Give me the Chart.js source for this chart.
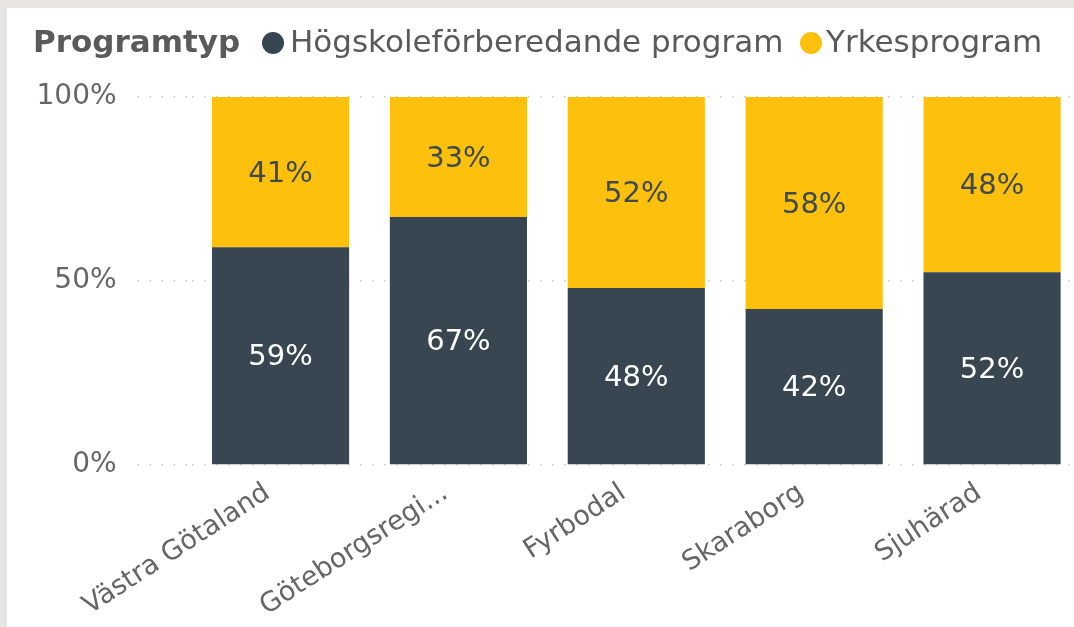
<!DOCTYPE html>
<html><head><meta charset="utf-8">
<script src="https://cdn.jsdelivr.net/npm/chart.js@4"></script>
<style>
html,body{margin:0;padding:0;background:#e8e4e1;overflow:hidden;width:1074px;height:627px;}
#card{position:absolute;left:7px;top:8px;width:1067px;height:619px;background:#fff;overflow:hidden;}
#wrap{position:absolute;left:0;top:0;width:1085px;height:619px;}
</style></head>
<body><div id="card"><div id="wrap"><canvas id="c" width="1085" height="619"></canvas></div></div>
<script>
const categories = ['Västra Götaland', 'Göteborgsregi...', 'Fyrbodal', 'Skaraborg', 'Sjuhärad'];
const hogskoleValues = [59.2, 67.4, 48.1, 42.4, 52.4];
const yrkesValues = [40.8, 32.6, 51.9, 57.6, 47.6];
const yTickValues = [0, 50, 100];
const legendTitle = 'Programtyp';
const seriesNames = ['Högskoleförberedande program', 'Yrkesprogram'];
const colors = ['#374650', '#FDC00C'];
const labelColors = ['#ffffff', '#3d4a52'];
const FONT = "'DejaVu Sans', sans-serif";

const legendPlugin = {
  id: 'customLegend',
  afterDraw(chart) {
    const ctx = chart.ctx;
    ctx.save();
    ctx.textBaseline = 'middle';
    ctx.fillStyle = '#5a5a5a';
    ctx.font = "bold 31px " + FONT;
    ctx.fillText(legendTitle, 26, 36);
    const circleX = [266, 804];
    const textX = [283, 819];
    seriesNames.forEach((n, i) => {
      ctx.beginPath();
      ctx.fillStyle = colors[i];
      ctx.arc(circleX[i], 35, 11, 0, Math.PI * 2);
      ctx.fill();
      ctx.fillStyle = '#5a5a5a';
      ctx.font = "31px " + FONT;
      ctx.fillText(n, textX[i], 36);
    });
    ctx.restore();
  }
};

const valueLabelPlugin = {
  id: 'valueLabels',
  afterDatasetsDraw(chart) {
    const ctx = chart.ctx;
    ctx.save();
    ctx.textAlign = 'center';
    ctx.textBaseline = 'middle';
    ctx.font = "29px " + FONT;
    chart.data.datasets.forEach((ds, di) => {
      const meta = chart.getDatasetMeta(di);
      meta.data.forEach((el, i) => {
        const p = el.getProps(['x', 'y', 'base'], true);
        ctx.fillStyle = labelColors[di];
        ctx.fillText(Math.round(ds.data[i]) + '%', p.x, (p.y + p.base) / 2 + 2);
      });
    });
    ctx.restore();
  }
};

new Chart(document.getElementById('c'), {
  type: 'bar',
  data: {
    labels: categories,
    datasets: [
      { label: seriesNames[0], data: hogskoleValues, backgroundColor: colors[0] },
      { label: seriesNames[1], data: yrkesValues, backgroundColor: colors[1] }
    ]
  },
  options: {
    responsive: false,
    animation: false,
    devicePixelRatio: 1,
    layout: { padding: { top: 89, right: 11, left: 0, bottom: 0 } },
    datasets: { bar: { categoryPercentage: 1, barPercentage: 0.771 } },
    plugins: { legend: { display: false }, tooltip: { enabled: false } },
    scales: {
      x: {
        stacked: true,
        grid: { display: false },
        border: { display: false },
        ticks: { color: '#666666', font: { family: FONT, size: 27 }, minRotation: 33, maxRotation: 33, padding: 4, labelOffset: -13 },
        afterFit(s) { s.height = 162; }
      },
      y: {
        stacked: true,
        min: 0, max: 100,
        afterBuildTicks(s) { s.ticks = yTickValues.map(v => ({ value: v })); },
        border: { display: false, dash: [1.5, 10.5] },
        grid: { color: '#c8c8c8', lineWidth: 1.5, tickLength: 54, tickBorderDash: [1.5, 10.5], tickColor: '#c8c8c8' },
        ticks: { color: '#666666', font: { family: FONT, size: 28 }, padding: 21, callback: v => v + '%' },
        afterFit(s) { s.width = 184.6; }
      }
    }
  },
  plugins: [legendPlugin, valueLabelPlugin]
});
</script>
</body></html>
